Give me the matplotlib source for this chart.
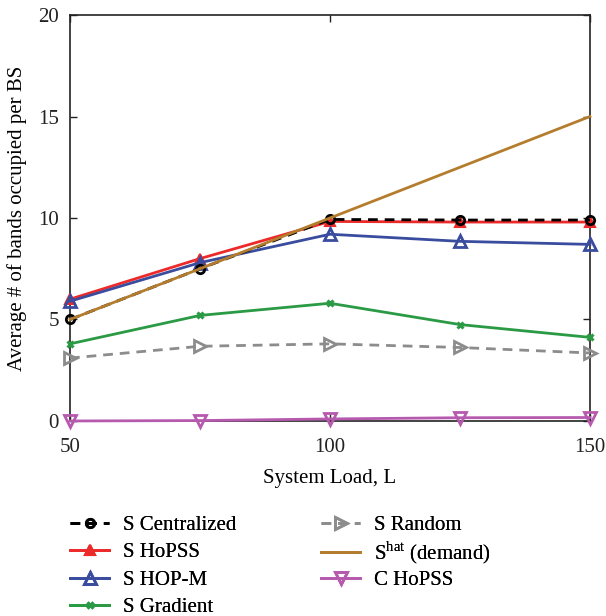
import matplotlib
matplotlib.use("Agg")
import matplotlib.pyplot as plt

plt.rcParams['font.family'] = ['Liberation Serif', 'DejaVu Serif']
plt.rcParams['mathtext.fontset'] = 'custom'
plt.rcParams['mathtext.rm'] = 'Liberation Serif'

load = [50, 75, 100, 125, 150]
s_centralized = [5.0, 7.5, 9.93, 9.9, 9.9]
s_hopss = [6.0, 8.0, 9.83, 9.8, 9.8]
s_hopm = [5.9, 7.8, 9.2, 8.85, 8.7]
s_gradient = [3.8, 5.2, 5.8, 4.75, 4.12]
s_random = [3.1, 3.68, 3.8, 3.62, 3.35]
s_hat = [5.0, 7.5, 10.0, 12.5, 15.0]
c_hopss = [0.0, 0.02, 0.1, 0.16, 0.17]

labels = ["S Centralized", "S HoPSS", "S HOP-M", "S Gradient",
          "S Random", r"S$^{\mathrm{hat}}$ (demand)", "C HoPSS"]

W, H = 606, 616
fig = plt.figure(figsize=(W / 100, H / 100), dpi=100)
ax = fig.add_axes([0.1155, 0.3166, 0.858, 0.659])

lw = 2.0
common = dict(lw=lw, clip_on=False)
ax.plot(load, s_centralized, color='black', ls=(0, (3.5, 2.5)),
        marker='o', ms=6, mfc='none', mew=2.0, label=labels[0], zorder=6, **common)
ax.plot(load, s_hopss, color='#ec2a2a', marker='^', ms=7, mfc='#ec2a2a',
        mew=1.5, label=labels[1], zorder=5, **common)
ax.plot(load, s_hopm, color='#3a4c9e', marker='^', ms=8, mfc='none',
        mew=2.0, label=labels[2], zorder=5, **common)
ax.plot(load, s_gradient, color='#2a9a44', marker='x', ms=5, mew=2.2,
        label=labels[3], zorder=4, **common)
ax.plot(load, s_random, color='#8c8c8c', ls=(0, (3.5, 2.5)), marker='>',
        ms=8, mfc='none', mew=2.0, label=labels[4], zorder=3, **common)
ax.plot(load, s_hat, color='#b47d2e', label=labels[5], zorder=7, **common)
ax.plot(load, c_hopss, color='#b65aae', marker='v', ms=8, mfc='none',
        mew=2.0, label=labels[6], zorder=4, **common)

ax.set_xlim(50, 150)
ax.set_ylim(0, 20)
ax.set_xticks([50, 100, 150])
ax.set_yticks([0, 5, 10, 15, 20])
ax.tick_params(direction='in', length=5, width=1, labelsize=15,
               top=True, right=True, pad=8, colors='#222222')
ax.tick_params(axis='x', pad=12)
for s in ax.spines.values():
    s.set_linewidth(1.2)
    s.set_color('#222222')

ax.set_xlabel("System Load, L", fontsize=15, labelpad=9)
ax.set_ylabel("Average # of bands occupied per BS", fontsize=15, labelpad=8)

# Legend laid out row by row so that both columns share the same baselines,
# even where a label carries a superscript.
handles, labs = ax.get_legend_handles_labels()
col_x = [51 / W, 302 / W]          # figure-fraction anchors of the columns
row_y = [525, 552.5, 580, 607]     # row centres in pixels from the top
for i, (h, l) in enumerate(zip(handles, labs)):
    col, row = (0, i) if i < 4 else (1, i - 4)
    leg = fig.legend([h], [l], loc='center left',
                     bbox_to_anchor=(col_x[col], 1 - row_y[row] / H),
                     frameon=False, fontsize=15, handlelength=1.9,
                     handletextpad=0.65)
    fig.add_artist(leg)

fig.savefig("out.png", dpi=100)
